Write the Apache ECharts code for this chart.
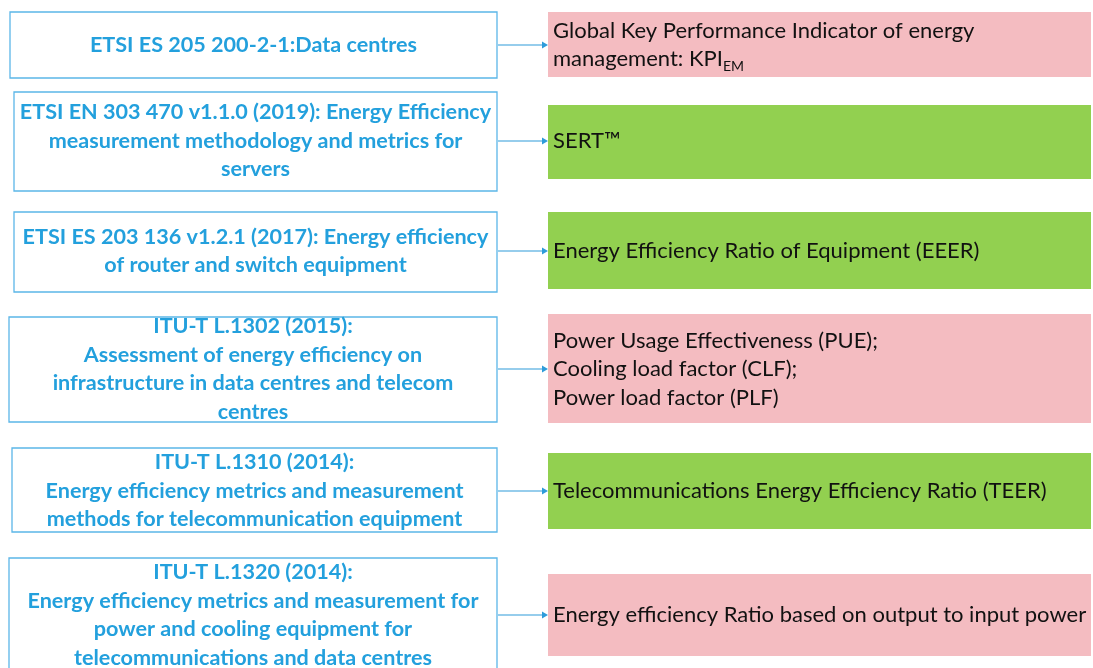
<!DOCTYPE html>
<html>
<head>
<meta charset="utf-8">
<script src="https://cdn.jsdelivr.net/npm/echarts@6/dist/echarts.min.js"></script>
<style>
html,body{margin:0;padding:0;background:#fff;}
#chart{width:1093px;height:668px;}
</style>
</head>
<body>
<div id="chart"></div>
<script>
// ---- content ----
const standards = [
  'ETSI ES 205 200-2-1:Data centres',
  'ETSI EN 303 470 v1.1.0 (2019): Energy Efficiency\nmeasurement methodology and metrics for\nservers',
  'ETSI ES 203 136 v1.2.1 (2017): Energy efficiency\nof router and switch equipment',
  'ITU-T L.1302 (2015):\nAssessment of energy efficiency on\ninfrastructure in data centres and telecom\ncentres',
  'ITU-T L.1310 (2014):\nEnergy efficiency metrics and measurement\nmethods for telecommunication equipment',
  'ITU-T L.1320 (2014):\nEnergy efficiency metrics and measurement for\npower and cooling equipment for\ntelecommunications and data centres'
];
const metrics = [
  'Global Key Performance Indicator of energy\nmanagement: KPI{sub|EM}',
  'SERT™',
  'Energy Efficiency Ratio of Equipment (EEER)',
  'Power Usage Effectiveness (PUE);\nCooling load factor (CLF);\nPower load factor (PLF)',
  'Telecommunications Energy Efficiency Ratio (TEER)',
  'Energy efficiency Ratio based on output to input power'
];
const metricGroup = ['pink', 'green', 'green', 'pink', 'green', 'pink'];

// ---- layout (diagram units = page pixels) ----
const leftBoxX = [[10, 497], [14, 497], [14, 497], [9, 497], [12, 497], [9, 497]];
const leftBoxY = [[12, 78], [92, 191], [212, 292], [317, 422], [448, 532], [558, 700]];
const rightBoxX = [548, 1091];
const rightBoxY = [[12, 77], [105, 179], [212, 289], [314, 423], [453, 529], [574, 656]];
const arrowY = [45, 141, 251, 369, 491, 615];

// ---- style ----
const groupColor = { pink: '#F4BCC1', green: '#92D050' };
const blueText = '#23A0DD';
const blueLine = '#5BB6E8';
const arrowColor = '#2E9CDA';
const FONT = 'Lato';

const chart = echarts.init(document.getElementById('chart'), null, { renderer: 'canvas' });

function renderItem(params, api) {
  const i = api.value(0);
  const c = (x, y) => api.coord([x, y]);
  const lt = c(leftBoxX[i][0], leftBoxY[i][0]);
  const lb = c(leftBoxX[i][1], leftBoxY[i][1]);
  const rt = c(rightBoxX[0], rightBoxY[i][0]);
  const rb = c(rightBoxX[1], rightBoxY[i][1]);
  const a0 = c(leftBoxX[i][1], arrowY[i]);
  const a1 = c(rightBoxX[0], arrowY[i]);
  return {
    type: 'group',
    children: [
      { type: 'rect', shape: { x: lt[0], y: lt[1], width: lb[0] - lt[0], height: lb[1] - lt[1] },
        style: { fill: '#fff', stroke: blueLine, lineWidth: 1.3 } },
      { type: 'text', x: (lt[0] + lb[0]) / 2, y: a0[1],
        style: { text: standards[i], fill: blueText, fontFamily: FONT, fontWeight: 'bold', fontSize: 21.6,
                 lineHeight: 28.5, align: 'center', verticalAlign: 'middle' } },
      { type: 'rect', shape: { x: rt[0], y: rt[1], width: rb[0] - rt[0], height: rb[1] - rt[1] },
        style: { fill: groupColor[metricGroup[i]], stroke: null } },
      { type: 'text', x: rt[0] + 5, y: a1[1],
        style: { text: metrics[i], fill: '#111', fontFamily: FONT, fontSize: 22,
                 lineHeight: 28.5, align: 'left', verticalAlign: 'middle',
                 rich: { sub: { fontFamily: FONT, fontSize: 14, fill: '#111', verticalAlign: 'bottom', lineHeight: 28.5, padding: [9, 0, 0, 0] } } } },
      { type: 'line', shape: { x1: a0[0] + 1, y1: a0[1], x2: a1[0] - 5, y2: a1[1] },
        style: { stroke: arrowColor, lineWidth: 1.2 } },
      { type: 'polygon', shape: { points: [[a1[0] - 6, a1[1] - 3.5], [a1[0], a1[1]], [a1[0] - 6, a1[1] + 3.5]] },
        style: { fill: arrowColor } }
    ]
  };
}

chart.setOption({
  animation: false,
  grid: { left: 0, right: 0, top: 0, bottom: 0 },
  xAxis: { type: 'value', min: 0, max: 1093, show: false },
  yAxis: { type: 'value', min: 0, max: 668, inverse: true, show: false },
  series: [{
    type: 'custom',
    clip: false,
    renderItem: renderItem,
    data: standards.map((s, i) => [i])
  }]
});
</script>
</body>
</html>
